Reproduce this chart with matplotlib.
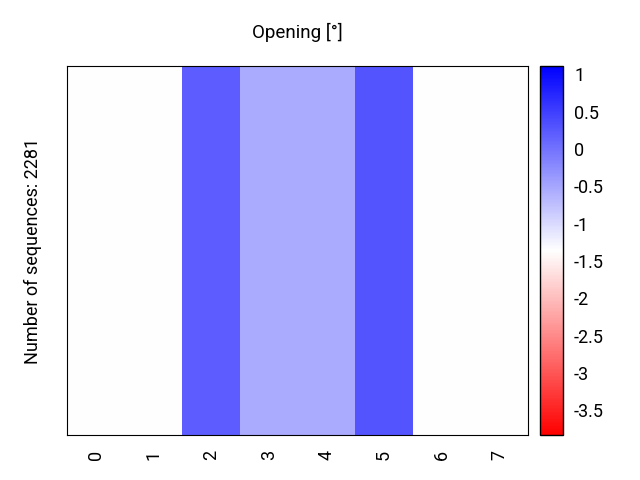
import numpy as np
import matplotlib
matplotlib.use("Agg")
import matplotlib.pyplot as plt

plt.rcParams['font.family'] = ['Roboto', 'DejaVu Sans']

# one row of values, one per opening bin
bins = ["0", "1", "2", "3", "4", "5", "6", "7"]
values = [-1.36, -1.36, 0.22, -0.54, -0.54, 0.29, -1.36, -1.36]
vmin, vmax = -3.83, 1.11
cbar_ticks = [1, 0.5, 0, -0.5, -1, -1.5, -2, -2.5, -3, -3.5]
n_seq = 2281

fig = plt.figure(figsize=(6.4, 4.8), dpi=100)
ax = fig.add_axes([0.1047, 0.0937, 0.7203, 0.7688])
cax = fig.add_axes([0.8438, 0.0937, 0.0359, 0.7688])

data = np.array(values).reshape(1, -1)
im = ax.imshow(data, cmap='bwr_r', vmin=vmin, vmax=vmax,
               aspect='auto', interpolation='nearest')

ax.set_xticks(range(len(bins)))
ax.set_xticklabels(bins, rotation=90, fontsize=13)
ax.set_yticks([])
ax.tick_params(axis='x', length=0, pad=11)
ax.set_ylabel("Number of sequences: " + str(n_seq), fontsize=13, labelpad=18)
ax.set_title("Opening [°]", fontsize=13.5, pad=20)

cb = fig.colorbar(im, cax=cax)
cb.set_ticks(cbar_ticks)
cb.set_ticklabels([str(t).replace(".0", "") if t == int(t) else str(t) for t in cbar_ticks])
cb.ax.tick_params(length=0, labelsize=13, pad=8)
cb.outline.set_linewidth(1)

fig.savefig("out.png", dpi=100)
